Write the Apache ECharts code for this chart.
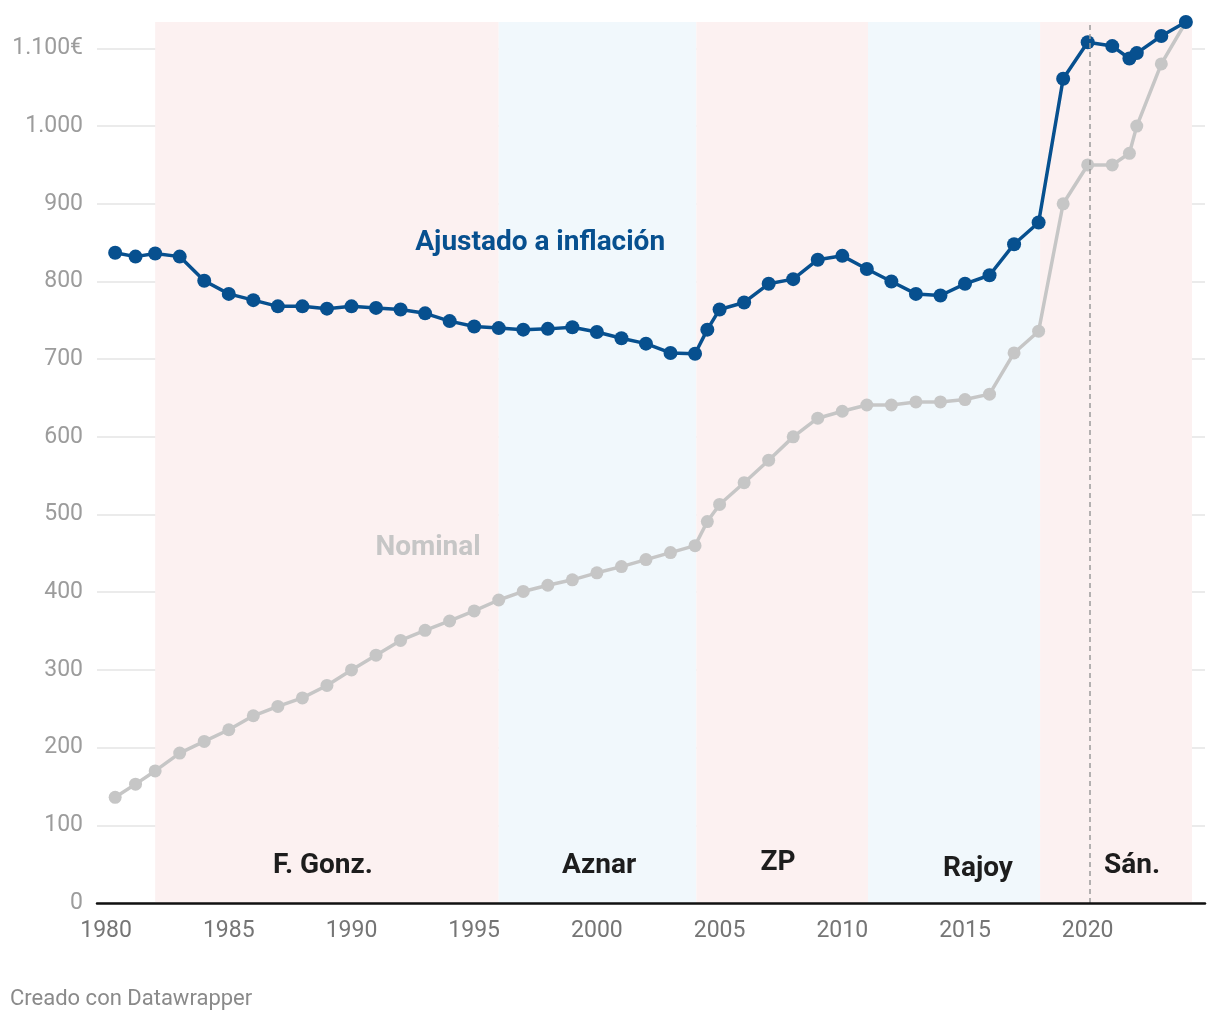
<!DOCTYPE html>
<html>
<head>
<meta charset="utf-8">
<script src="https://cdn.jsdelivr.net/npm/echarts@6/dist/echarts.min.js"></script>
<style>
html,body{margin:0;padding:0;background:#fff;}
#chart{width:1220px;height:1020px;}
</style>
</head>
<body>
<div id="chart"></div>
<script>
// ---- data ----
const years = [1980.37, 1981.2, 1982, 1983, 1984, 1985, 1986, 1987, 1988, 1989, 1990, 1991, 1992, 1993, 1994, 1995, 1996, 1997, 1998, 1999, 2000, 2001, 2002, 2003, 2004, 2004.5, 2005, 2006, 2007, 2008, 2009, 2010, 2011, 2012, 2013, 2014, 2015, 2016, 2017, 2018, 2019, 2020, 2021, 2021.7, 2022, 2023, 2024];
const nominal = [136, 153, 170, 193, 208, 223, 241, 253, 264, 280, 300, 319, 338, 351, 363, 376, 390, 401, 409, 416, 425, 433, 442, 451, 460, 491, 513, 541, 570, 600, 624, 633, 641, 641, 645, 645, 648, 655, 708, 736, 900, 950, 950, 965, 1000, 1080, 1134];
const adjusted = [837, 832, 836, 832, 801, 784, 776, 768, 768, 765, 768, 766, 764, 759, 749, 742, 740, 738, 739, 741, 735, 727, 720, 708, 707, 738, 764, 773, 797, 803, 828, 833, 816, 800, 784, 782, 797, 808, 848, 876, 1061, 1108, 1103, 1087, 1094, 1116, 1134];
const periodNames = ['F. Gonz.', 'Aznar', 'ZP', 'Rajoy', 'Sán.'];
const periodStart = [1982.0, 1996.0, 2004.05, 2011.05, 2018.06];
const periodEnd = [1996.0, 2004.05, 2011.05, 2018.06, 2024.25];
const periodParty = ['psoe', 'pp', 'psoe', 'pp', 'psoe'];
const periodLabelX = [1988.84, 2000.09, 2007.38, 2015.53, 2021.81];
const periodLabelY = [48, 48, 51, 44, 48];
const xTickLabels = [1980, 1985, 1990, 1995, 2000, 2005, 2010, 2015, 2020];
const yTickLabels = [0, 100, 200, 300, 400, 500, 600, 700, 800, 900, 1000, 1100];
const markerYear = 2020.08;

// ---- styling ----
const BLUE = '#07508f';
const GRAY = '#c6c6c6';
const FONT = 'Roboto';
const partyFill = { psoe: '#fcf1f1', pp: '#f1f8fc' };

function fmtY(v) {
  let s = String(v);
  if (v >= 1000) s = s.slice(0, s.length - 3) + '.' + s.slice(-3);
  if (v === 1100) s += '€';
  return s;
}

function textPoint(coord, text, size, color) {
  return {
    coord: coord,
    symbol: 'rect',
    symbolSize: 1,
    itemStyle: { color: 'rgba(0,0,0,0)' },
    label: {
      show: true, position: 'inside', formatter: text,
      fontFamily: FONT, fontWeight: 'bold', fontSize: size, color: color
    }
  };
}

const areaData = periodNames.map((n, i) => [
  { xAxis: periodStart[i], itemStyle: { color: partyFill[periodParty[i]] } },
  { xAxis: periodEnd[i] }
]);

const periodLabels = periodNames.map((n, i) =>
  textPoint([periodLabelX[i], periodLabelY[i]], n, 28, '#1d1d1d'));

const chart = echarts.init(document.getElementById('chart'), null, { renderer: 'canvas' });
chart.setOption({
  animation: false,
  backgroundColor: '#ffffff',
  title: {
    text: 'Creado con Datawrapper',
    left: 5, top: 983,
    textStyle: { fontFamily: FONT, fontSize: 22, fontWeight: 'normal', color: '#8a8a8a' }
  },
  grid: { left: 97, right: 15, top: 22, bottom: 117, containLabel: false },
  xAxis: {
    type: 'value',
    min: 1979.63, max: 2024.78,
    z: 10,
    axisLine: { show: true, lineStyle: { color: '#111', width: 2.5 } },
    axisTick: { show: false, customValues: xTickLabels },
    splitLine: { show: false },
    axisLabel: {
      customValues: xTickLabels,
      fontFamily: FONT, fontSize: 23, color: '#757575', margin: 17,
      formatter: v => String(v)
    }
  },
  yAxis: {
    type: 'value',
    min: 0, max: 1134,
    axisLine: { show: false },
    axisTick: { show: false, customValues: yTickLabels },
    splitLine: { show: true, lineStyle: { color: '#e4e4e4', width: 1.5 } },
    axisLabel: {
      customValues: yTickLabels,
      fontFamily: FONT, fontSize: 23, color: '#9c9c9c', margin: 14,
      formatter: v => fmtY(v)
    }
  },
  series: [
    {
      name: 'periods',
      type: 'line',
      data: [],
      silent: true,
      z: 0,
      markArea: { silent: true, data: areaData, label: { show: false } },
      markLine: {
        silent: true,
        symbol: 'none',
        label: { show: false },
        lineStyle: { color: '#9a9a9a', type: [5, 4], width: 1.5 },
        data: [{ xAxis: markerYear }]
      }
    },
    {
      name: 'Nominal',
      type: 'line',
      data: years.map((y, i) => [y, nominal[i]]),
      symbol: 'circle',
      symbolSize: 13,
      showAllSymbol: true,
      lineStyle: { color: GRAY, width: 3.5 },
      itemStyle: { color: GRAY },
      z: 3,
      markPoint: {
        silent: true,
        data: [textPoint([1993.12, 457], 'Nominal', 28, GRAY)].concat(periodLabels)
      }
    },
    {
      name: 'Ajustado a inflación',
      type: 'line',
      data: years.map((y, i) => [y, adjusted[i]]),
      symbol: 'circle',
      symbolSize: 14,
      showAllSymbol: true,
      lineStyle: { color: BLUE, width: 3.5 },
      itemStyle: { color: BLUE },
      z: 4,
      markPoint: {
        silent: true,
        data: [textPoint([1997.69, 850], 'Ajustado a inflación', 28, BLUE)]
      }
    }
  ]
});
</script>
</body>
</html>
